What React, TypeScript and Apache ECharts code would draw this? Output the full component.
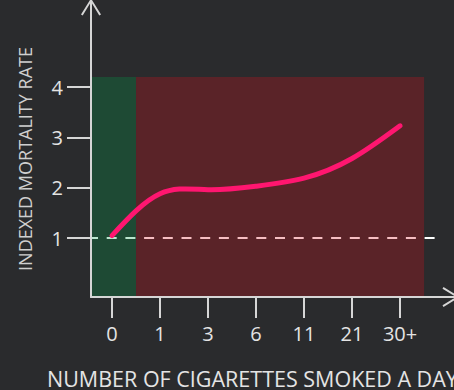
import React, { useEffect, useRef } from 'react';
import * as echarts from 'echarts';

// ---- data ----
const categories = ['0', '1', '3', '6', '11', '21', '30+'];
const mortality = [1.05, 1.88, 1.96, 2.03, 2.19, 2.58, 3.23];
const yTickValues = [1, 2, 3, 4];
const baselineValue = 1;
const baselineEnd = 6.75;
const zoneStarts = [-0.4375, 0.5];
const zoneEnds = [0.5, 6.5];
const zoneTop = 4.2;
const zoneColors = ['rgba(1,158,75,0.27)', 'rgba(220,13,30,0.27)'];

const X_MIN = -0.4375;
const X_MAX = 7.04;
const Y_MIN = -0.17;
const Y_MAX = 5.57;

const FONT = "'Open Sans', sans-serif";
const BG = '#2a2b2d';
const AXIS_COLOR = '#d6d6d6';
const TEXT_COLOR = '#e4e4e4';

// open chevron arrow with stem, pointing up
const ARROW =
  'path://M9,0 L11,0 L20,14.5 L18.3,15.5 L11,3.5 L11,16 L9,16 L9,3.5 L1.7,15.5 L0,14.5 Z';

// natural cubic spline control points (same scheme as d3.curveNatural)
function controlPoints(x: number[]): [number[], number[]] {
  const n = x.length - 1;
  const a = new Array(n);
  const b = new Array(n);
  const r = new Array(n);
  a[0] = 0; b[0] = 2; r[0] = x[0] + 2 * x[1];
  for (let i = 1; i < n - 1; ++i) { a[i] = 1; b[i] = 4; r[i] = 4 * x[i] + 2 * x[i + 1]; }
  a[n - 1] = 2; b[n - 1] = 7; r[n - 1] = 8 * x[n - 1] + x[n];
  for (let i = 1; i < n; ++i) {
    const m = a[i] / b[i - 1];
    b[i] -= m;
    r[i] -= m * r[i - 1];
  }
  a[n - 1] = r[n - 1] / b[n - 1];
  for (let i = n - 2; i >= 0; --i) a[i] = (r[i] - a[i + 1]) / b[i];
  b[n - 1] = (x[n] + a[n - 1]) / 2;
  for (let i = 0; i < n - 1; ++i) b[i] = 2 * x[i + 1] - a[i + 1];
  return [a, b];
}

function naturalPath(pts: number[][]): string {
  const xs = pts.map((p) => p[0]);
  const ys = pts.map((p) => p[1]);
  const [ax, bx] = controlPoints(xs);
  const [ay, by] = controlPoints(ys);
  let d = `M${xs[0]},${ys[0]}`;
  for (let i = 0; i < xs.length - 1; i++) {
    d += ` C${ax[i]},${ay[i]} ${bx[i]},${by[i]} ${xs[i + 1]},${ys[i + 1]}`;
  }
  return d;
}

export default function App() {
  const ref = useRef<HTMLDivElement>(null);

  useEffect(() => {
    document.body.style.margin = '0';
    if (!ref.current) return;
    const chart = echarts.init(ref.current, null, { renderer: 'svg' });

    const curveData = mortality.map((v, i) => [i, v]);
    const zoneData = zoneStarts.map((s, i) => [s, zoneEnds[i], zoneTop]);

    chart.setOption({
      animation: false,
      backgroundColor: BG,
      grid: { left: 91, right: 4, top: 8, bottom: 93, containLabel: false },
      xAxis: {
        type: 'value',
        min: X_MIN,
        max: X_MAX,
        z: 10,
        splitLine: { show: false },
        axisLine: {
          show: true,
          onZero: false,
          lineStyle: { color: AXIS_COLOR, width: 2 },
          symbol: ['none', ARROW],
          symbolSize: [21, 16],
        },
        axisTick: {
          show: true,
          length: 21,
          customValues: categories.map((_, i) => i),
          lineStyle: { color: AXIS_COLOR, width: 2 },
        },
        axisLabel: {
          show: true,
          customValues: categories.map((_, i) => i),
          formatter: (v: number) => categories[Math.round(v)] ?? '',
          color: TEXT_COLOR,
          fontSize: 20,
          fontFamily: FONT,
          margin: 26,
        },
      },
      yAxis: {
        type: 'value',
        min: Y_MIN,
        max: Y_MAX,
        z: 10,
        splitLine: { show: false },
        axisLine: {
          show: true,
          onZero: false,
          lineStyle: { color: AXIS_COLOR, width: 2 },
          symbol: ['none', ARROW],
          symbolSize: [20, 16],
        },
        axisTick: {
          show: true,
          length: 24,
          customValues: yTickValues,
          lineStyle: { color: AXIS_COLOR, width: 2 },
        },
        axisLabel: {
          show: true,
          customValues: yTickValues,
          formatter: (v: number) => String(v),
          color: TEXT_COLOR,
          fontSize: 20,
          fontFamily: FONT,
          margin: 28,
        },
      },
      graphic: [
        {
          type: 'text',
          x: 25,
          y: 159,
          rotation: Math.PI / 2,
          style: {
            text: 'INDEXED MORTALITY RATE',
            fill: '#cfcfcf',
            font: `18px ${FONT}`,
            align: 'center',
            verticalAlign: 'middle',
          },
        },
        {
          type: 'text',
          x: 47,
          y: 378.5,
          style: {
            text: 'NUMBER OF CIGARETTES SMOKED A DAY',
            fill: TEXT_COLOR,
            font: `21.5px ${FONT}`,
            align: 'left',
            verticalAlign: 'middle',
          },
        },
      ],
      series: [
        {
          type: 'line',
          z: 1,
          data: [
            [X_MIN, baselineValue],
            [baselineEnd, baselineValue],
          ],
          showSymbol: false,
          silent: true,
          lineStyle: { color: '#ffffff', width: 2, type: [10, 8.7], dashOffset: 3 },
        },
        {
          type: 'custom',
          z: 2,
          silent: true,
          data: zoneData,
          encode: { x: [0, 1], y: 2 },
          renderItem: (params: any, api: any) => {
            const p0 = api.coord([api.value(0), api.value(2)]);
            const p1 = api.coord([api.value(1), Y_MIN]);
            return {
              type: 'rect',
              shape: { x: p0[0], y: p0[1], width: p1[0] - p0[0], height: p1[1] - p0[1] },
              style: { fill: zoneColors[params.dataIndex] },
            };
          },
        },
        {
          type: 'custom',
          z: 3,
          silent: true,
          data: curveData,
          encode: { x: 0, y: 1 },
          renderItem: (params: any, api: any) => {
            if (params.dataIndex !== 0) return null;
            const pts = curveData.map((p) => api.coord(p));
            return {
              type: 'path',
              shape: { pathData: naturalPath(pts) },
              style: { fill: 'none', stroke: '#ff1670', lineWidth: 5, lineCap: 'round' },
            };
          },
        },
      ],
    });

    return () => chart.dispose();
  }, []);

  return (
    <div
      ref={ref}
      style={{ position: 'absolute', left: 0, top: 0, width: 454, height: 390 }}
    />
  );
}
